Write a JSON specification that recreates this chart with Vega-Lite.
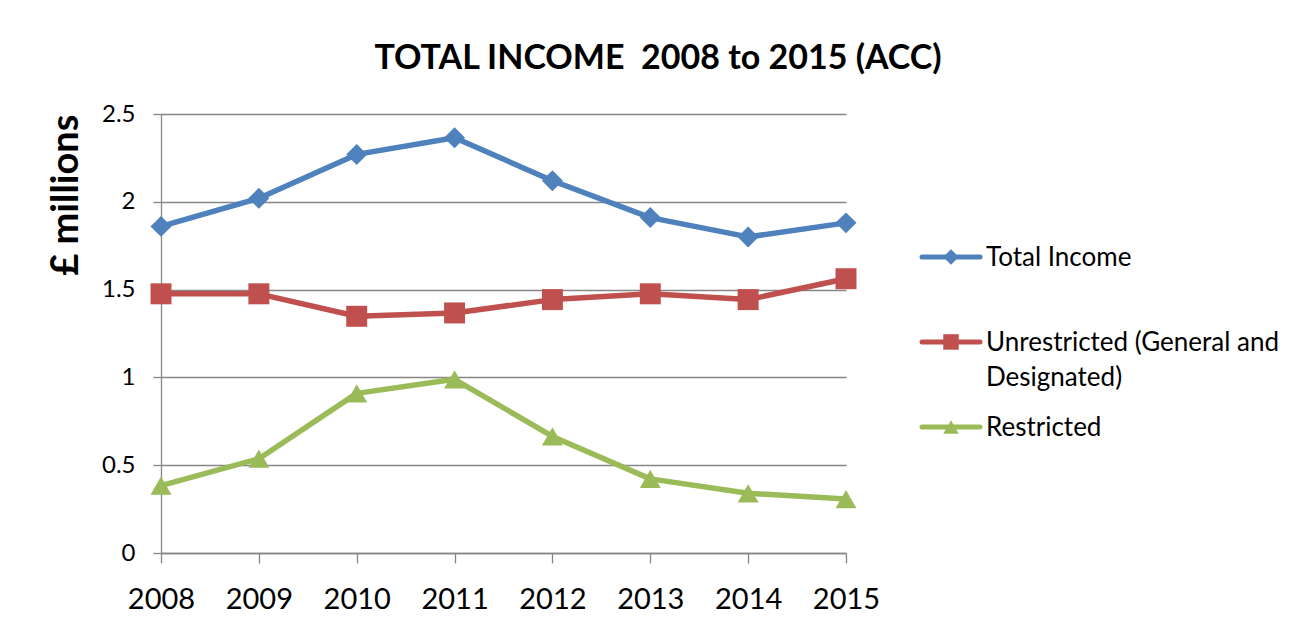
{
  "$schema": "https://vega.github.io/schema/vega-lite/v6.json",
  "background": "white",
  "padding": {"left": 47, "top": 42, "right": 10, "bottom": 10},
  "title": {"text": "TOTAL INCOME\u00a0 2008 to 2015 (ACC)", "font": "Lato", "fontSize": 34, "fontWeight": "bold", "color": "black", "anchor": "middle", "frame": "group", "dx": 497, "offset": 26},
  "datasets": {
    "income": [
      {"year": "2008", "series": "Total Income", "value": 1.86},
      {"year": "2009", "series": "Total Income", "value": 2.02},
      {"year": "2010", "series": "Total Income", "value": 2.27},
      {"year": "2011", "series": "Total Income", "value": 2.365},
      {"year": "2012", "series": "Total Income", "value": 2.12},
      {"year": "2013", "series": "Total Income", "value": 1.91},
      {"year": "2014", "series": "Total Income", "value": 1.80},
      {"year": "2015", "series": "Total Income", "value": 1.88},
      {"year": "2008", "series": "Unrestricted (General and\nDesignated)", "value": 1.476},
      {"year": "2009", "series": "Unrestricted (General and\nDesignated)", "value": 1.476},
      {"year": "2010", "series": "Unrestricted (General and\nDesignated)", "value": 1.348},
      {"year": "2011", "series": "Unrestricted (General and\nDesignated)", "value": 1.367},
      {"year": "2012", "series": "Unrestricted (General and\nDesignated)", "value": 1.443},
      {"year": "2013", "series": "Unrestricted (General and\nDesignated)", "value": 1.476},
      {"year": "2014", "series": "Unrestricted (General and\nDesignated)", "value": 1.443},
      {"year": "2015", "series": "Unrestricted (General and\nDesignated)", "value": 1.562},
      {"year": "2008", "series": "Restricted", "value": 0.384},
      {"year": "2009", "series": "Restricted", "value": 0.537},
      {"year": "2010", "series": "Restricted", "value": 0.909},
      {"year": "2011", "series": "Restricted", "value": 0.989},
      {"year": "2012", "series": "Restricted", "value": 0.664},
      {"year": "2013", "series": "Restricted", "value": 0.422},
      {"year": "2014", "series": "Restricted", "value": 0.34},
      {"year": "2015", "series": "Restricted", "value": 0.307}
    ],
    "legend": [
      {"series": "Total Income"},
      {"series": "Unrestricted (General and\nDesignated)"},
      {"series": "Restricted"}
    ]
  },
  "spacing": 76,
  "bounds": "flush",
  "hconcat": [
    {
      "width": 685,
      "height": 439,
      "data": {"name": "income"},
      "encoding": {
        "x": {"field": "year", "type": "ordinal", "scale": {"type": "point", "padding": 0},
          "axis": {"title": null, "labelAngle": 0, "labelFontSize": 29, "labelColor": "black", "labelPadding": 22, "tickSize": 10, "tickColor": "#868686", "tickWidth": 1.3, "domainColor": "#868686", "domainWidth": 1.3, "grid": false}},
        "y": {"field": "value", "type": "quantitative", "scale": {"domain": [0, 2.5]},
          "axis": {"title": "£ millions", "titleFont": "Lato", "titleFontSize": 38, "titleFontWeight": "bold", "titleColor": "black", "titlePadding": 16, "titleAnchor": "end", "values": [0, 0.5, 1, 1.5, 2, 2.5], "labelExpr": "'' + datum.value", "labelFontSize": 24, "labelColor": "black", "labelPadding": 18, "tickSize": 8, "tickColor": "#868686", "tickWidth": 1.3, "domainColor": "#868686", "domainWidth": 1.3, "grid": true, "gridColor": "#868686", "gridWidth": 1.3}},
        "color": {"field": "series", "type": "nominal", "scale": {"domain": ["Total Income", "Unrestricted (General and\nDesignated)", "Restricted"], "range": ["#4F81BD", "#C0504D", "#9BBB59"]}, "legend": null}
      },
      "layer": [
        {"mark": {"type": "line", "strokeWidth": 5.5, "strokeJoin": "round"}},
        {"mark": {"type": "point", "filled": true, "opacity": 1, "size": 440},
          "encoding": {"shape": {"field": "series", "type": "nominal", "scale": {"domain": ["Total Income", "Unrestricted (General and\nDesignated)", "Restricted"], "range": ["diamond", "square", "triangle-up"]}, "legend": null}}}
      ]
    },
    {
      "width": 58,
      "height": 340,
      "data": {"name": "legend"},
      "encoding": {
        "y": {"field": "series", "type": "nominal", "scale": {"type": "point", "domain": ["Total Income", "Unrestricted (General and\nDesignated)", "Restricted"], "padding": 1, "align": 0.841}, "axis": null},
        "color": {"field": "series", "type": "nominal", "scale": {"domain": ["Total Income", "Unrestricted (General and\nDesignated)", "Restricted"], "range": ["#4F81BD", "#C0504D", "#9BBB59"]}, "legend": null}
      },
      "layer": [
        {"mark": {"type": "rule", "strokeWidth": 5, "strokeCap": "round"},
          "encoding": {"x": {"datum": 0, "type": "quantitative", "scale": {"domain": [0, 1]}, "axis": null}, "x2": {"datum": 1}}},
        {"mark": {"type": "point", "filled": true, "opacity": 1, "size": 240},
          "encoding": {"x": {"datum": 0.5, "type": "quantitative", "axis": null},
            "shape": {"field": "series", "type": "nominal", "scale": {"domain": ["Total Income", "Unrestricted (General and\nDesignated)", "Restricted"], "range": ["diamond", "square", "triangle-up"]}, "legend": null}}},
        {"mark": {"type": "text", "align": "left", "baseline": "top", "dx": 6, "dy": -12, "fontSize": 26, "lineBreak": "\n", "lineHeight": 35, "color": "black"},
          "encoding": {"x": {"datum": 1, "type": "quantitative", "axis": null}, "text": {"field": "series"}, "color": {"value": "black"}}}
      ]
    }
  ],
  "config": {
    "view": {"stroke": null},
    "font": "Lato",
    "axis": {"labelFont": "Lato", "titleFont": "Lato"}
  }
}
